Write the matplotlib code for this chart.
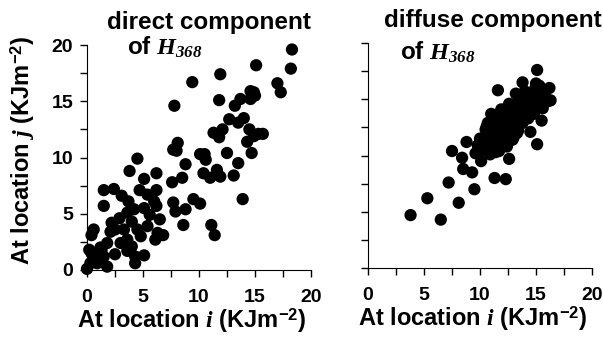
import matplotlib
matplotlib.use("Agg")
import matplotlib.pyplot as plt
from matplotlib.ticker import MultipleLocator

plt.rcParams['font.family'] = 'Liberation Sans'
plt.rcParams['font.weight'] = 'bold'
plt.rcParams['mathtext.fontset'] = 'custom'
plt.rcParams['mathtext.rm'] = 'Liberation Sans:bold'
plt.rcParams['mathtext.bf'] = 'Liberation Sans:bold'
plt.rcParams['mathtext.it'] = 'Liberation Serif:italic'
plt.rcParams['mathtext.cal'] = 'Liberation Serif:italic'

# direct component: location i vs location j
direct_i = [18.3, 18.2, 15.1, 11.9, 9.4, 17.0, 17.3, 7.8, 11.8, 14.6, 14.9, 15.0, 14.6,
            13.7, 13.2, 14.0, 12.7, 13.5, 14.5, 12.1, 11.3, 11.8, 15.3, 15.7, 14.9, 14.3,
            14.7, 12.5, 7.7, 8.1, 8.0, 8.8, 10.1, 10.5, 10.6, 13.5, 11.0, 11.6, 11.9, 13.1,
            10.4, 8.5, 7.6, 7.7, 7.9, 8.8, 8.6, 9.5, 10.1, 11.1, 11.4, 13.9,
            4.5, 3.8, 6.2, 5.1, 4.7, 6.2, 1.5, 2.4, 1.5, 3.1, 3.7, 5.4, 6.0, 6.2, 5.1, 5.6,
            3.6, 4.2, 2.9, 2.2, 2.5, 2.1, 3.3, 4.0, 4.5, 4.8, 6.5, 6.3, 6.8, 6.1, 5.4,
            0.6, 0.4, 1.2, 1.8, 0.2, 0.7, 0.3, 0.0, 0.9, 1.2, 1.8, 1.3, 2.5, 3.6, 4.3, 4.3,
            5.1, 4.0, 3.6, 3.0, 0.4, 1.5]
direct_j = [19.6, 17.9, 18.2, 17.4, 16.7, 16.6, 15.8, 14.6, 15.1, 15.9, 15.8, 15.5, 15.2,
            15.2, 14.6, 13.5, 13.4, 13.1, 12.5, 12.5, 12.2, 11.8, 12.1, 12.1, 11.9, 11.4,
            10.4, 10.4, 10.7, 11.3, 10.6, 9.4, 10.3, 10.3, 9.8, 9.5, 8.2, 8.9, 8.3, 8.4,
            8.6, 8.2, 7.8, 6.0, 5.2, 5.4, 4.0, 6.3, 5.9, 4.0, 3.1, 6.3,
            9.9, 8.8, 8.6, 8.1, 7.1, 7.1, 7.1, 7.2, 5.7, 6.6, 6.1, 6.7, 6.1, 5.7, 5.5, 4.9,
            5.1, 5.4, 4.6, 4.2, 3.6, 3.4, 3.6, 4.3, 3.6, 3.0, 4.5, 3.3, 3.1, 2.7, 3.9,
            3.6, 3.1, 2.0, 2.4, 1.8, 1.2, 0.6, 0.1, 0.6, 1.0, 0.3, 1.8, 1.4, 1.7, 1.2, 0.6,
            1.3, 2.1, 2.7, 2.4, 1.5, 1.2]

# diffuse component
diffuse_i = [3.8, 5.3, 6.5, 7.2, 8.1, 7.5, 8.8, 9.5, 8.5, 9.3, 8.4, 11.3, 12.3, 12.6,
             15.1, 15.5, 16.3, 16.2, 15.1, 15.0, 13.8, 11.6, 11.0,
             9.6, 9.9, 10.2, 10.4, 10.6, 10.8, 11.0, 11.2, 11.4, 11.6, 11.8, 12.0, 12.2,
             12.4, 12.6, 12.8, 13.0, 13.2, 13.4, 13.6, 13.8, 14.0, 14.2, 14.4, 14.6, 14.8,
             15.0, 10.0, 10.5, 11.0, 11.5, 12.0, 12.5, 13.0, 13.5, 14.0, 14.5, 15.0, 15.5,
             10.3, 10.8, 11.3, 11.8, 12.3, 12.8, 13.3, 13.8, 14.3, 14.8, 15.8, 16.0,
             9.8, 10.1, 10.9, 11.7, 12.1, 12.9, 13.1, 13.7, 14.1, 14.9, 15.3, 11.9, 12.7,
             13.4, 14.5, 10.7, 11.5, 12.4,
             10.6, 11.1, 11.9, 12.6, 13.2, 14.2, 12.9, 11.4, 13.6, 14.7, 10.2, 12.0,
             15.6, 14.0, 11.7, 13.0]
diffuse_j = [4.7, 6.2, 4.3, 7.6, 5.8, 10.4, 11.2, 7.0, 8.8, 8.5, 9.8, 8.0, 7.9, 9.7,
             11.0, 13.1, 14.9, 16.0, 17.6, 16.4, 16.5, 15.8, 13.7,
             10.2, 10.8, 11.0, 11.6, 11.2, 12.0, 11.7, 12.4, 12.0, 12.6, 12.3, 13.0, 12.7,
             13.1, 13.3, 13.6, 13.2, 13.9, 14.0, 14.3, 14.1, 14.7, 14.4, 15.0, 14.8, 15.3,
             15.1, 11.5, 12.3, 12.8, 13.4, 13.8, 12.2, 12.6, 13.0, 13.5, 13.9, 14.2, 14.6,
             10.6, 11.0, 11.2, 11.5, 11.9, 12.4, 12.0, 12.9, 13.3, 13.7, 15.6, 14.8,
             10.9, 9.5, 10.1, 10.4, 11.1, 11.4, 14.5, 14.9, 15.4, 15.9, 16.2, 13.9, 14.4,
             12.2, 12.1, 12.9, 13.6, 10.8,
             12.6, 13.2, 14.1, 14.6, 15.5, 13.4, 11.6, 10.3, 12.8, 14.1, 10.5, 11.2,
             14.2, 15.7, 12.9, 11.6]

fig = plt.figure(figsize=(6.03, 3.37), dpi=100)
ax1 = fig.add_axes([87 / 603, 67 / 337, 224 / 603, 225 / 337])
ax2 = fig.add_axes([368 / 603, 69 / 337, 224 / 603, 225 / 337])

xlab = r'At location $\mathit{i}$ (KJm$^{\mathbf{-2}}$)'
for ax, xs, ys in [(ax1, direct_i, direct_j), (ax2, diffuse_i, diffuse_j)]:
    ax.scatter(xs, ys, s=78, color='black', edgecolors='none', clip_on=False)
    ax.set_xlim(0, 20)
    ax.set_ylim(0, 20)
    ax.spines['top'].set_visible(False)
    ax.spines['right'].set_visible(False)
    ax.xaxis.set_major_locator(MultipleLocator(5))
    ax.xaxis.set_minor_locator(MultipleLocator(2.5))
    ax.yaxis.set_major_locator(MultipleLocator(5))
    ax.yaxis.set_minor_locator(MultipleLocator(2.5))
    ax.tick_params(which='both', direction='out', length=5, width=1, labelsize=14)
    ax.tick_params(axis='x', pad=9)
    ax.tick_params(axis='y', pad=5)
    for lab in ax.get_xticklabels() + ax.get_yticklabels():
        lab.set_fontweight('bold')
    ax.set_xlabel(xlab, fontsize=17, fontweight='bold')
    ax.xaxis.set_label_coords(0.466, -0.16)

ax1.set_ylabel(r'At location $\mathit{j}$ (KJm$^{\mathbf{-2}}$)', fontsize=17,
               fontweight='bold')
ax1.yaxis.set_label_coords(-0.225, 0.53)
ax2.tick_params(axis='y', labelleft=False)

fig.text(0.347, 0.914, 'direct component', fontsize=17.5, fontweight='bold',
         ha='center', va='baseline')
fig.text(0.21, 0.837, r'of $\mathit{H}_{\mathcal{368}}$', fontsize=17.5,
         fontweight='bold', va='baseline')
fig.text(0.817, 0.92, 'diffuse component', fontsize=17.5, fontweight='bold',
         ha='center', va='baseline')
fig.text(0.663, 0.822, r'of $\mathit{H}_{\mathcal{368}}$', fontsize=17.5,
         fontweight='bold', va='baseline')

fig.savefig('out.png', dpi=100)
